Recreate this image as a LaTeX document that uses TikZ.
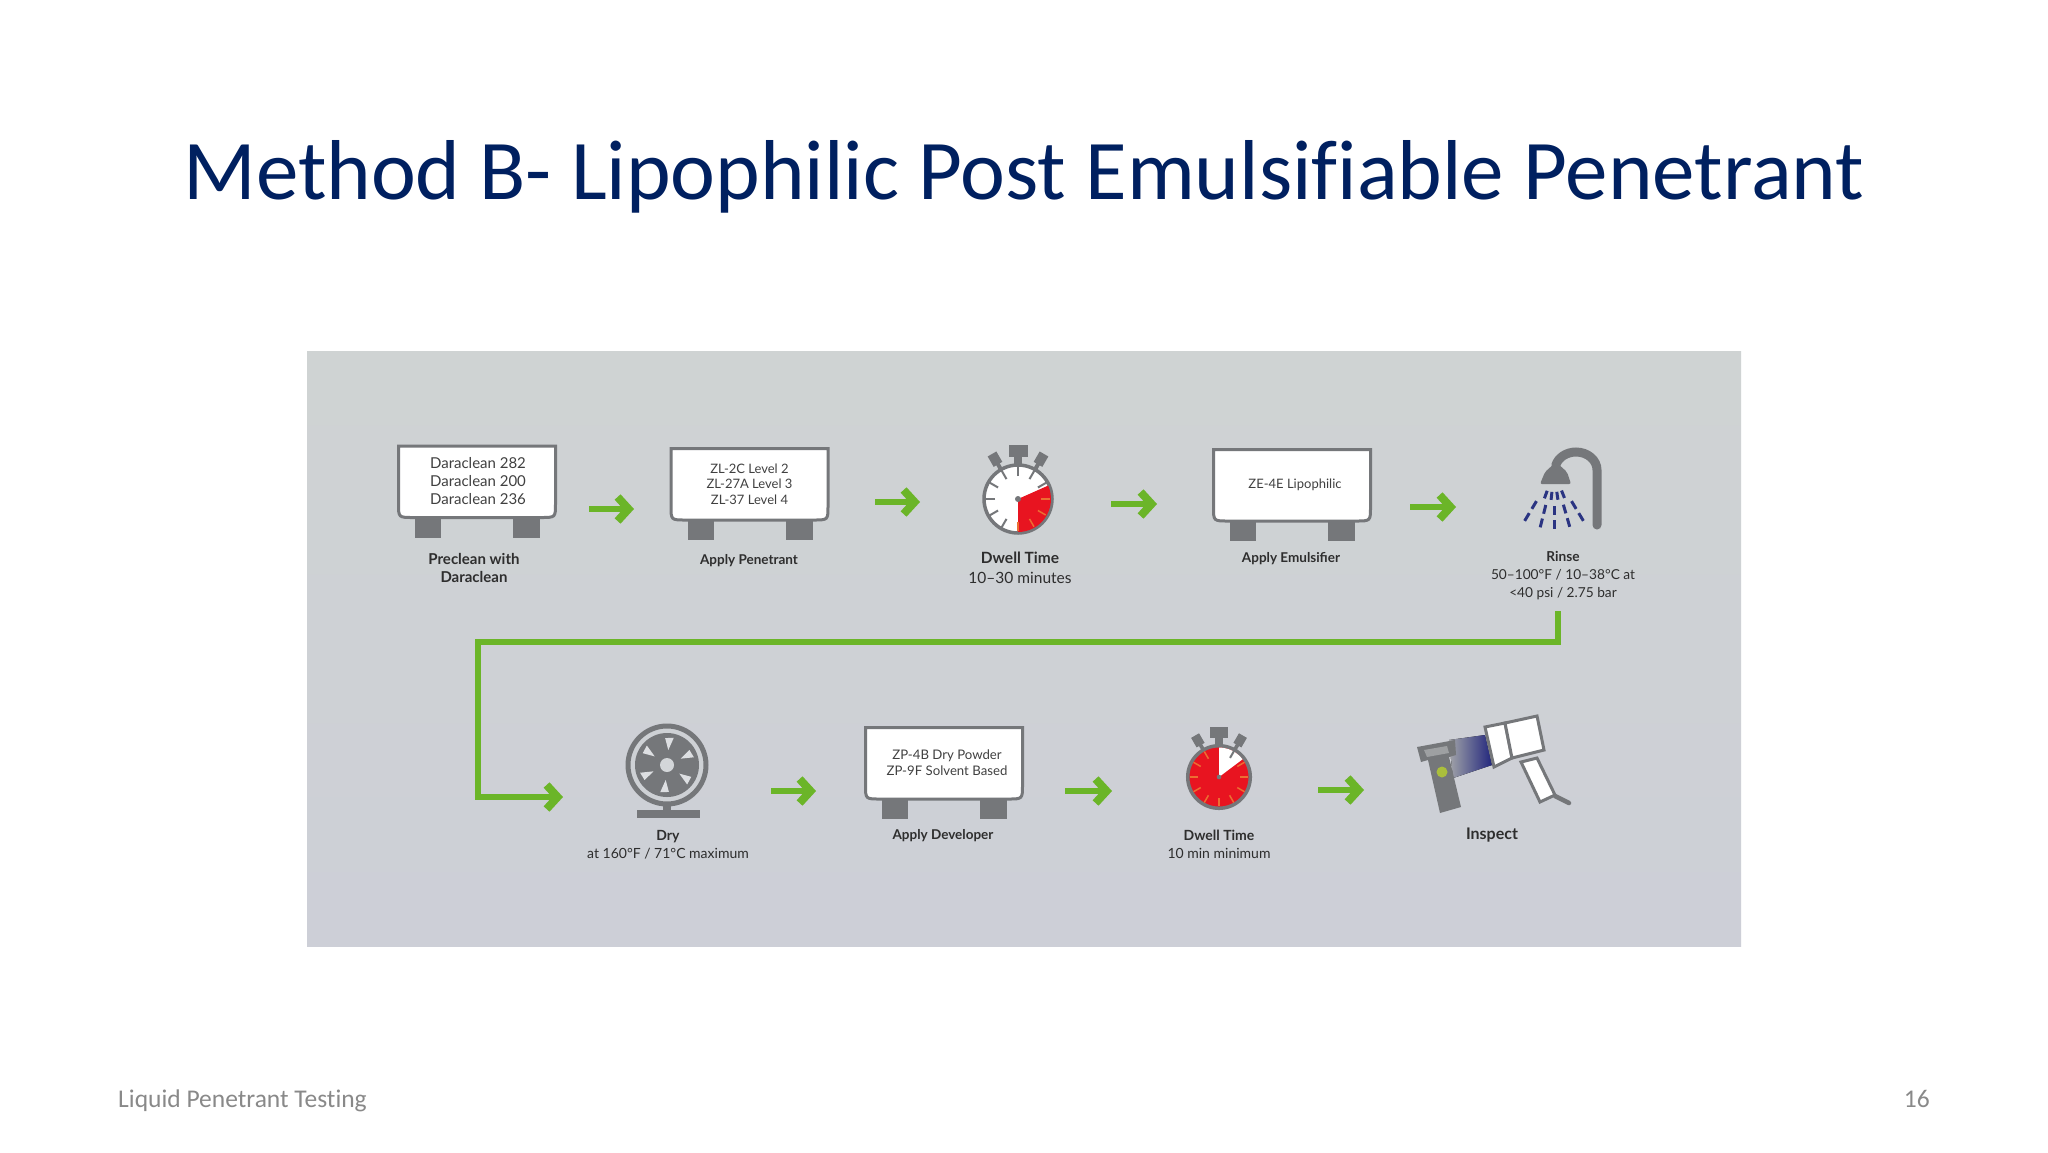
\documentclass[tikz,border=0pt]{standalone}
\usepackage{fontspec}
\setmainfont{Lato}
\newfontfamily\slidefont[Ligatures=NoCommon]{Carlito}
\usetikzlibrary{arrows.meta}
\definecolor{navytitle}{RGB}{0,32,96}
\definecolor{footgray}{RGB}{137,137,137}
\definecolor{paneltop}{RGB}{207,211,211}
\definecolor{panelbot}{RGB}{205,207,215}
\definecolor{panelgray}{RGB}{206,209,213}
\definecolor{leaf}{RGB}{107,181,40}
\definecolor{iron}{RGB}{117,119,122}
\definecolor{alarm}{RGB}{232,20,32}
\definecolor{spark}{RGB}{236,110,50}
\definecolor{spray}{RGB}{42,52,130}
\definecolor{beam}{RGB}{34,38,125}
\definecolor{glow}{RGB}{170,190,60}
\tikzset{
  flow/.style={line width=6.5pt,leaf,-{Straight Barb[length=11pt,width=24pt,line width=8pt]}},
  caption/.style={inner sep=0pt,align=center,text=black!82},
  boxtext/.style={inner sep=0pt,align=center,text=black!75},
  shell/.style={draw=iron,line width=3pt,fill=white}
}
\newcommand{\tankicon}[6]{
  \begin{scope}[shift={#2}]
    \fill [iron] (-62,37) rectangle (-36,56);
    \fill [iron] (36,37) rectangle (63,56);
    \draw [shell] (-78.5,-35.5)--(-78.5,22) .. controls (-78.5,36) and (-78.5,36) .. (-64,36)--(64,36) .. controls (78.5,36) and (78.5,36) .. (78.5,22)--(78.5,-35.5)--cycle;
    \node [boxtext,font=\fontsize{#3}{#4}\selectfont] (#1) at (#5,0) {#6};
  \end{scope}
}
\newcommand{\watchparts}{
  \fill [iron] (-9.5,-54) rectangle (9.5,-42);
  \fill [iron] (-4,-43) rectangle (4,-32);
  \foreach \s in {-1,1} {
    \begin{scope}[rotate=\s*30]
      \fill [iron] (-5,-52) rectangle (5,-40);
      \fill [iron] (-2,-41) rectangle (2,-32);
    \end{scope}
  }
}
\begin{document}
\begin{tikzpicture}[x=1pt,y=-1pt]
\useasboundingbox (0,0) rectangle (2048,1152);
\fill [white] (0,0) rectangle (2048,1152);
\node [anchor=base,inner sep=0pt,text=navytitle,font=\slidefont\fontsize{85}{90}\selectfont] (title) at (1024,199) {Method B- Lipophilic Post Emulsifiable Penetrant};
\fill [top color=paneltop,bottom color=panelbot] (307,351) rectangle (1741,946);

\tankicon{clean}{(477,481.5)}{15}{18}{1}{Daraclean 282\\Daraclean 200\\Daraclean 236}
\tankicon{penetrant}{(749.5,484)}{13}{15.5}{0}{ZL-2C Level 2\\ZL-27A Level 3\\ZL-37 Level 4}
\tankicon{emulsifier}{(1292,485)}{13}{16}{3}{ZE-4E Lipophilic}
\tankicon{developer}{(944,763)}{13.2}{16}{3}{ZP-4B Dry Powder\\ZP-9F Solvent Based}

\node [caption,font=\fontsize{15}{18}\selectfont\bfseries] (cleancap) at (474,568) {Preclean with\\Daraclean};
\node [caption,font=\fontsize{13.5}{18}\selectfont\bfseries] (penetrantcap) at (749,561) {Apply Penetrant};
\node [caption,font=\fontsize{15.5}{20}\selectfont] (dwellcap) at (1020,568) {\textbf{Dwell Time}\\10–30 minutes};
\node [caption,font=\fontsize{13.5}{18}\selectfont\bfseries] (emulsifiercap) at (1291,559) {Apply Emulsifier};
\node [caption,font=\fontsize{13.7}{18}\selectfont] (rinsecap) at (1563,576) {\textbf{Rinse}\\50–100°F / 10–38°C at\\<40 psi / 2.75 bar};
\node [caption,font=\fontsize{14}{18}\selectfont] (drycap) at (668,845) {\textbf{Dry}\\at 160°F / 71°C maximum};
\node [caption,font=\fontsize{13.5}{18}\selectfont\bfseries] (developercap) at (943,836) {Apply Developer};
\node [caption,font=\fontsize{14}{18}\selectfont] (dwelltwocap) at (1219,844) {\textbf{Dwell Time}\\10 min minimum};
\node [caption,font=\fontsize{16}{18}\selectfont\bfseries] (inspectcap) at (1492,835) {Inspect};

\begin{scope}[shift={(1018,499)}]
  \watchparts
  \draw [fill=white,draw=iron,line width=3.5pt] (0,0) circle (34);
  \fill [alarm] (0,0)--(-24:33) arc [start angle=-24,end angle=90,radius=33]--cycle;
  \foreach \a in {120,150,...,330} \draw [iron,line width=2pt] (\a:23)--(\a:33);
  \foreach \a in {0,30,60,90} \draw [spark,line width=1.5pt] (\a:23)--(\a:32);
  \fill [iron] (0,0) circle (3);
\end{scope}
\begin{scope}[shift={(1219,777)},scale=0.92]
  \watchparts
  \draw [fill=alarm,draw=iron,line width=3.5pt] (0,0) circle (34);
  \fill [white] (0,0)--(-90:32) arc [start angle=-90,end angle=-37,radius=32]--cycle;
  \foreach \a in {-30,0,...,240} \draw [spark,line width=1.5pt] (\a:23)--(\a:32);
  \draw [iron,line width=2pt] (-60:24)--(-60:33);
  \fill [iron] (0,0) circle (2.5);
\end{scope}

\draw [iron,line width=9pt,line cap=round] (1597,525)--(1597,470) arc [start angle=0,end angle=-165,x radius=21,y radius=18];
\fill [iron,rounded corners=2pt] (1540,484)--(1571,484)--(1567,472)--(1556,462)--(1545,472)--cycle;
\begin{scope}[shift={(1554,472)}]
  \foreach \a in {-31,-16,0,14,31} {
    \draw [spray,line width=3pt] ({90+\a}:{34})--({90+\a}:{43});
    \draw [spray,line width=3pt] ({90+\a}:{48})--({90+\a}:{57});
  }
  \foreach \a in {-22,-8,6,20} \draw [spray,line width=3pt] ({90+\a}:{20})--({90+\a}:{28});
\end{scope}

\fill [iron] (637,810) rectangle (700,818);
\fill [iron] (663,800) rectangle (671,812);
\draw [draw=iron,fill=panelgray,line width=5pt] (667,765) circle (39);
\fill [iron] (667,765) circle (32);
\begin{scope}[shift={(667,765)}]
  \foreach \a in {-25,35,...,275} \fill [panelgray!70!white] (\a:15)--({\a-9}:27)--({\a+9}:28)--cycle;
  \fill [panelgray!90!white] (0,0) circle (7);
\end{scope}

\fill [left color=iron!50!panelgray,right color=beam] (1449,740)--(1485,735)--(1492,765)--(1453,778)--cycle;
\fill [iron] (1417,747)--(1455,740)--(1456,755)--(1449,757)--(1461,807)--(1440,813)--(1428,760)--(1421,762)--cycle;
\fill [iron!70!white] (1424,750)--(1447,746)--(1449,753)--(1427,757)--cycle;
\fill [glow] (1442,772) circle (5.5);
\draw [shell] (1485,727)--(1505,723)--(1512,758)--(1494,767)--cycle;
\draw [shell] (1505,723)--(1537,716)--(1544,750)--(1512,758)--cycle;
\draw [shell] (1521,762)--(1537,758)--(1555,795)--(1540,802)--cycle;
\draw [iron,line width=4.5pt,line cap=round] (1555,796)--(1569,803);

\foreach \i/\xa/\xb/\yy in {1/589/634/509,2/875/920/502,3/1111/1157/504,4/1410/1456/507,5/771/816/791,6/1065/1112/791,7/1318/1364/790}{
  \coordinate (out\i) at (\xa,\yy);
  \coordinate (in\i) at (\xb,\yy);
  \draw [flow] (out\i)--(in\i);
}
\coordinate (rinseout) at (1558,611);
\coordinate (bend) at (478,642);
\coordinate (dryin) at (563,797);
\draw [flow] (rinseout)|-(bend)--(bend|-dryin)--(dryin);

\node [anchor=base west,inner sep=0pt,text=footgray,font=\slidefont\fontsize{25.5}{30}\selectfont] (foot) at (118,1107) {Liquid Penetrant Testing};
\node [anchor=base east,inner sep=0pt,text=footgray,font=\slidefont\fontsize{25.5}{30}\selectfont] (page) at (1930,1107) {16};
\end{tikzpicture}
\end{document}
